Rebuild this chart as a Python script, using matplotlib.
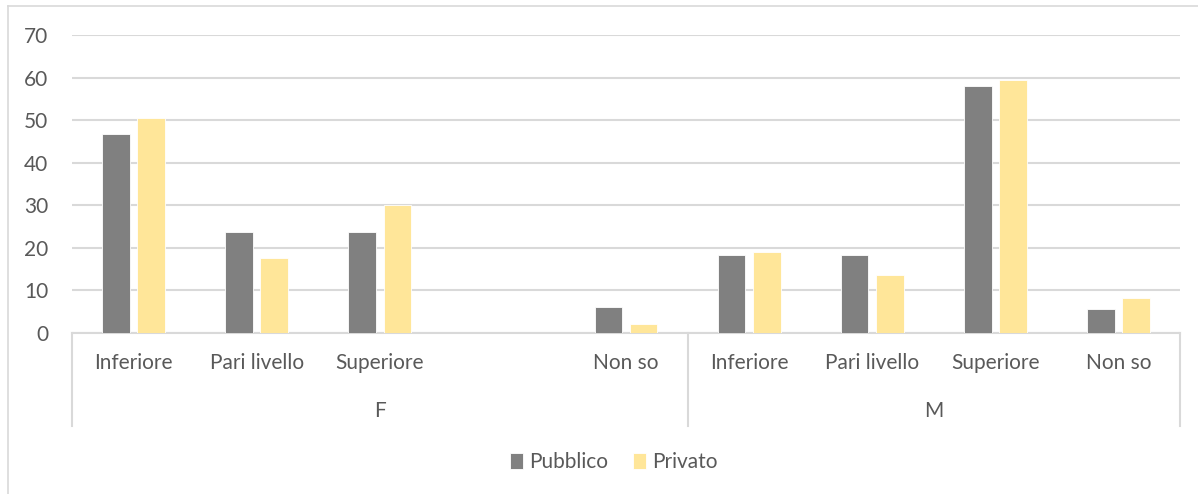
import matplotlib
matplotlib.use("Agg")
import matplotlib.pyplot as plt
from matplotlib.lines import Line2D
import numpy as np

plt.rcParams['font.family'] = ['Lato', 'DejaVu Sans']

# Data: F has an empty slot between "Superiore" and "Non so"
groups = ["F", "M"]
categories = ["Inferiore", "Pari livello", "Superiore", "", "Non so",
              "Inferiore", "Pari livello", "Superiore", "Non so"]
group_sizes = [5, 4]
series_names = ["Pubblico", "Privato"]
pubblico = [46.7, 23.6, 23.6, np.nan, 5.9, 18.2, 18.2, 58.1, 5.5]
privato = [50.4, 17.5, 29.9, np.nan, 1.9, 18.9, 13.5, 59.4, 8.1]
colors = ["#808080", "#FFE699"]
yticks = [0, 10, 20, 30, 40, 50, 60, 70]

W, H = 1198, 494
FS = 15
TXT = "#595959"
fig = plt.figure(figsize=(W / 100, H / 100), dpi=100)

# outer chart frame (top and left edges visible)
fig.add_artist(Line2D([8 / W, 8 / W], [0, 1 - 6 / H], transform=fig.transFigure,
                      color="#D9D9D9", lw=1.2))
fig.add_artist(Line2D([8 / W, 1], [1 - 6 / H, 1 - 6 / H], transform=fig.transFigure,
                      color="#D9D9D9", lw=1.2))

left, right, top, bottom = 72, 1180, 35, 332.5
ax = fig.add_axes([left / W, 1 - bottom / H, (right - left) / W, (bottom - top) / H])

n = len(categories)
x = np.arange(n)
bw = 0.224
off = 0.143
ax.bar(x - off, pubblico, bw, color=colors[0], edgecolor="white", linewidth=0.6,
       label=series_names[0], zorder=3)
ax.bar(x + off, privato, bw, color=colors[1], edgecolor="white", linewidth=0.6,
       label=series_names[1], zorder=3)

ax.set_xlim(-0.5, n - 0.5)
ax.set_ylim(0, 70)
ax.set_yticks(yticks)
ax.set_yticklabels([str(v) for v in yticks], color=TXT, fontsize=FS)
ax.tick_params(axis="y", length=0, pad=17)
ax.set_xticks([])
ax.grid(axis="y", color="#D9D9D9", linewidth=1.5, zorder=0)
for s in ["top", "right", "left"]:
    ax.spines[s].set_visible(False)
ax.spines["bottom"].set_color("#D9D9D9")
ax.spines["bottom"].set_linewidth(1.5)

# category labels and group labels below the axis
trans = ax.get_xaxis_transform()
ax_h = bottom - top


def yfrac(py):
    return (bottom - py) / ax_h


for i, c in enumerate(categories):
    if c:
        ax.text(i, yfrac(363), c, transform=trans, ha="center", va="center",
                fontsize=FS, color=TXT)

start = 0
bounds = [-0.5]
for g, size in zip(groups, group_sizes):
    center = start + (size - 1) / 2
    ax.text(center, yfrac(411), g, transform=trans, ha="center", va="center",
            fontsize=FS, color=TXT)
    start += size
    bounds.append(start - 0.5)

for b in bounds:
    ax.add_line(Line2D([b, b], [0, yfrac(426)], transform=trans, color="#D9D9D9",
                       lw=1.5, clip_on=False))

leg = fig.legend(loc="center", bbox_to_anchor=(614 / W, 1 - 462 / H), ncol=2,
                 frameon=False, fontsize=FS, handlelength=0.6, handleheight=0.8,
                 handletextpad=0.3, columnspacing=1.2)
for t in leg.get_texts():
    t.set_color(TXT)

fig.savefig("out.png", dpi=100, facecolor="white")
